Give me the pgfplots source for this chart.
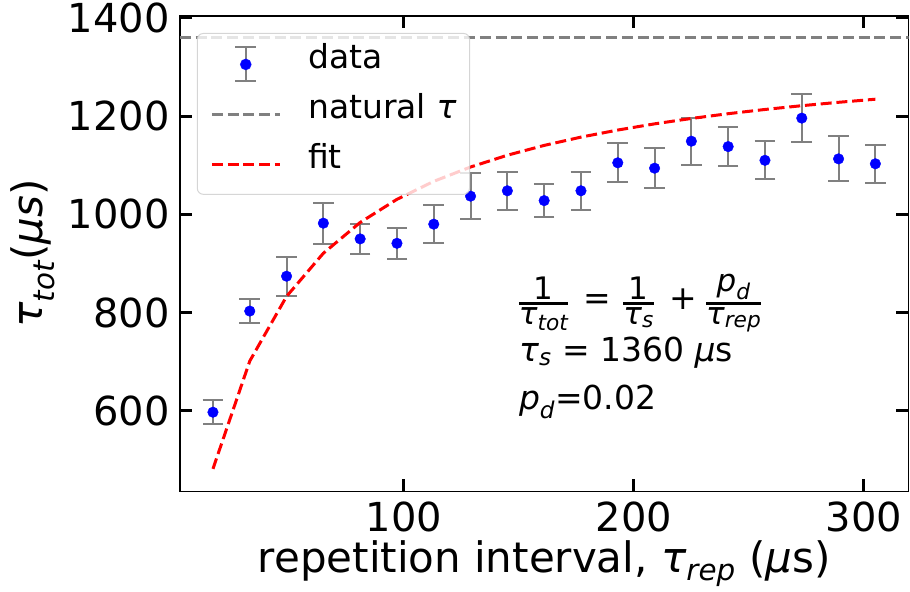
\documentclass[border=0pt]{standalone}
\usepackage{fontspec}
\setmainfont{DejaVu Sans}
\usepackage{amsmath}
\usepackage{pgfplots}
\pgfplotsset{compat=1.18}
\usepackage{pgfplotstable}

% measured points: x, tau_tot, error
\pgfplotstableread{
x y e
17 597 24
33 803 25
49 874 40
65 982 42
81 950 30
97 941 32
113 980 39
129 1037 47
145 1048 39
161 1028 33
177 1048 39
193 1105 40
209 1094 41
225 1149 48
241 1138 39
257 1110 39
273 1196 49
289 1113 46
305 1103 39
}\datatable

% fit curve, read at the data x values
\pgfplotstableread{
x y
17 481.6
33 701.2
49 832.9
65 920.8
81 983.5
97 1030.6
113 1067.2
129 1096.4
145 1120.4
161 1140.4
177 1157.3
193 1171.7
209 1184.3
225 1195.3
241 1205.0
257 1213.6
273 1221.3
289 1228.2
305 1234.5
}\fittable

\newcommand{\tauit}{\textit{τ}}
\newcommand{\sub}[1]{\textsubscript{\itshape #1}}
\newcommand{\fr}[2]{\genfrac{}{}{2.5pt}{1}{\mbox{\fontsize{31}{37}\selectfont #1}}{\mbox{\fontsize{31}{37}\selectfont #2}}}

\pgfplotsset{
  dashimg/.style={legend image code/.code={
    \path[draw=none, fill=none] (0pt,-17pt) rectangle (68pt,17pt);
    \draw[#1, line width=3pt, dash pattern=on 11pt off 4.8pt, draw opacity=1] (0pt,0pt) -- (68pt,0pt);
  }},
  errimg/.style={legend image code/.code={
    \path[draw=none, fill=none] (0pt,-17pt) rectangle (68pt,17pt);
    \draw[gray, line width=2pt, draw opacity=1] (34pt,-17pt) -- (34pt,17pt)
      (23.7pt,-17pt) -- (44.3pt,-17pt) (23.7pt,17pt) -- (44.3pt,17pt);
    \fill[blue, fill opacity=1] (34pt,0pt) circle (5.3pt);
  }},
}

\begin{document}
\begin{tikzpicture}
\path (-180pt,-100.3pt) rectangle (730pt,491.7pt);
\begin{axis}[
  scale only axis, width=729.3pt, height=475.7pt,
  xmin=2.6, xmax=319.4, ymin=436, ymax=1404,
  xtick={100,200,300}, ytick={600,800,1000,1200,1400},
  tick align=inside, xtick pos=both, ytick pos=both,
  xticklabel pos=lower, yticklabel pos=left,
  major tick length=12.3pt,
  major tick style={black, line width=3pt},
  axis line style={black, line width=1.5pt},
  /pgf/number format/assume math mode=true,
  /pgf/number format/1000 sep={},
  ticklabel style={font=\fontsize{40}{48}\selectfont, inner sep=0pt},
  xticklabel style={yshift=-10pt},
  yticklabel style={xshift=-10pt},
  label style={font=\fontsize{42}{50}\selectfont, inner sep=0pt},
  xlabel={repetition interval, \tauit\sub{rep} (\textit{μ}s)},
  ylabel={\tauit\sub{tot}(\textit{μs})},
  xlabel style={at={(axis description cs:0.5,-0.1709)}, anchor=base},
  ylabel style={at={(axis description cs:-0.1879,0.5)}, anchor=base},
  legend cell align=left,
  legend style={at={(axis description cs:0.0233,0.9643)}, anchor=north west,
    draw=black!20, line width=1pt, rounded corners=6pt,
    fill=white, fill opacity=0.8, draw opacity=0.8, text opacity=1,
    inner xsep=13pt, inner ysep=13pt, row sep=15.5pt, column sep=27pt,
    font=\fontsize{33}{40}\selectfont,
    nodes={inner sep=0pt, text height=0.76em, text depth=0pt}},
]
\addplot[draw=none, mark=none, forget plot,
  error bars/.cd, y dir=both, y explicit, error mark=|,
  error bar style={draw=gray, line width=2pt},
  error mark options={draw=gray, line width=2pt, mark size=10.3pt}]
  table[x=x, y=y, y error=e] {\datatable};
\addplot[only marks, mark=*, mark size=5.3pt, blue, errimg]
  table[x=x, y=y] {\datatable};
\addlegendentry{data}
\addplot[gray, line width=3pt, dash pattern=on 11pt off 4.8pt, mark=none, dashimg=gray]
  coordinates {(2.6,1360) (319.4,1360)};
\addlegendentry{natural \tauit}
\addplot[red, line width=3pt, dash pattern=on 11pt off 4.8pt, mark=none, dashimg=red]
  table[x=x, y=y] {\fittable};
\addlegendentry{fit}

\node[anchor=base west, inner sep=0pt, font=\fontsize{33}{40}\selectfont]
  at (axis cs:149.4,805.7)
  {$\fr{1}{\tauit\sub{tot}}$\hspace{14pt}=\hspace{11pt}$\fr{1}{\tauit\sub{s}}$\hspace{14pt}+\hspace{8pt}$\fr{\textit{p}\sub{d}}{\tauit\sub{rep}}$};
\node[anchor=base west, inner sep=0pt, font=\fontsize{33}{40}\selectfont]
  at (axis cs:150,700.5) {\tauit\sub{s} = 1360 \textit{μ}s};
\node[anchor=base west, inner sep=0pt, font=\fontsize{33}{40}\selectfont]
  at (axis cs:150,602.3) {\textit{p}\sub{d}=0.02};
\end{axis}
\end{tikzpicture}
\end{document}
